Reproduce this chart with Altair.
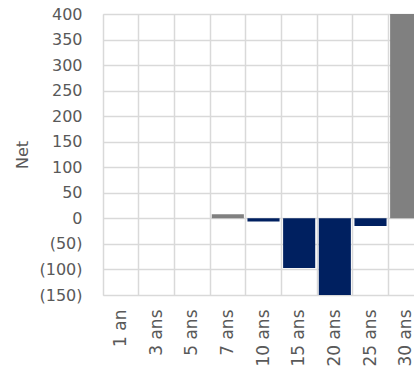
import altair as alt
import pandas as pd

# Net position by maturity bucket
maturities = ["1 an", "3 ans", "5 ans", "7 ans", "10 ans", "15 ans", "20 ans", "25 ans", "30 ans"]
net_values = [0, 0, 0, 8, -6, -97, -150, -15, 400]

df = pd.DataFrame({"Maturite": maturities, "Net": net_values})

TEXT = "#595959"
GRID = "#d9d9d9"
FONT = "DejaVu Sans"

paren_fmt = "datum.value < 0 ? '(' + format(-datum.value, 'd') + ')' : format(datum.value, 'd')"

chart = (
    alt.Chart(df)
    .mark_bar(width=alt.RelativeBandSize(0.9), clip=True)
    .encode(
        x=alt.X(
            "Maturite:N",
            sort=maturities,
            # the last bucket runs past the right edge of the view
            scale=alt.Scale(paddingInner=0, paddingOuter=0, range=[0, 321]),
            axis=alt.Axis(
                title=None,
                labelAngle=-90,
                labelPadding=14,
                labelFontSize=17,
                labelColor=TEXT,
                labelFont=FONT,
                ticks=False,
                domain=False,
                grid=True,
                bandPosition=0,
                gridColor=GRID,
                gridWidth=1.5,
            ),
        ),
        y=alt.Y(
            "Net:Q",
            scale=alt.Scale(domain=[-150, 400], nice=False, zero=False),
            axis=alt.Axis(
                title="Net",
                titleFont=FONT,
                titleFontSize=16,
                titleFontWeight="normal",
                titleColor=TEXT,
                titlePadding=8,
                values=list(range(-150, 401, 50)),
                labelExpr=paren_fmt,
                labelPadding=21,
                labelFontSize=16,
                labelColor=TEXT,
                labelFont=FONT,
                ticks=False,
                domain=False,
                gridColor=GRID,
                gridWidth=1.5,
            ),
        ),
        color=alt.condition(alt.datum.Net >= 0, alt.value("#808080"), alt.value("#002060")),
    )
    .properties(
        width=311,
        height=281,
        autosize=alt.AutoSizeParams(type="none"),
        padding={"left": 103, "top": 14, "right": 0, "bottom": 71},
    )
    .configure_view(stroke=None)
    .configure(background="white")
)

chart.save("out.html", embed_options={"renderer": "svg", "actions": False})
